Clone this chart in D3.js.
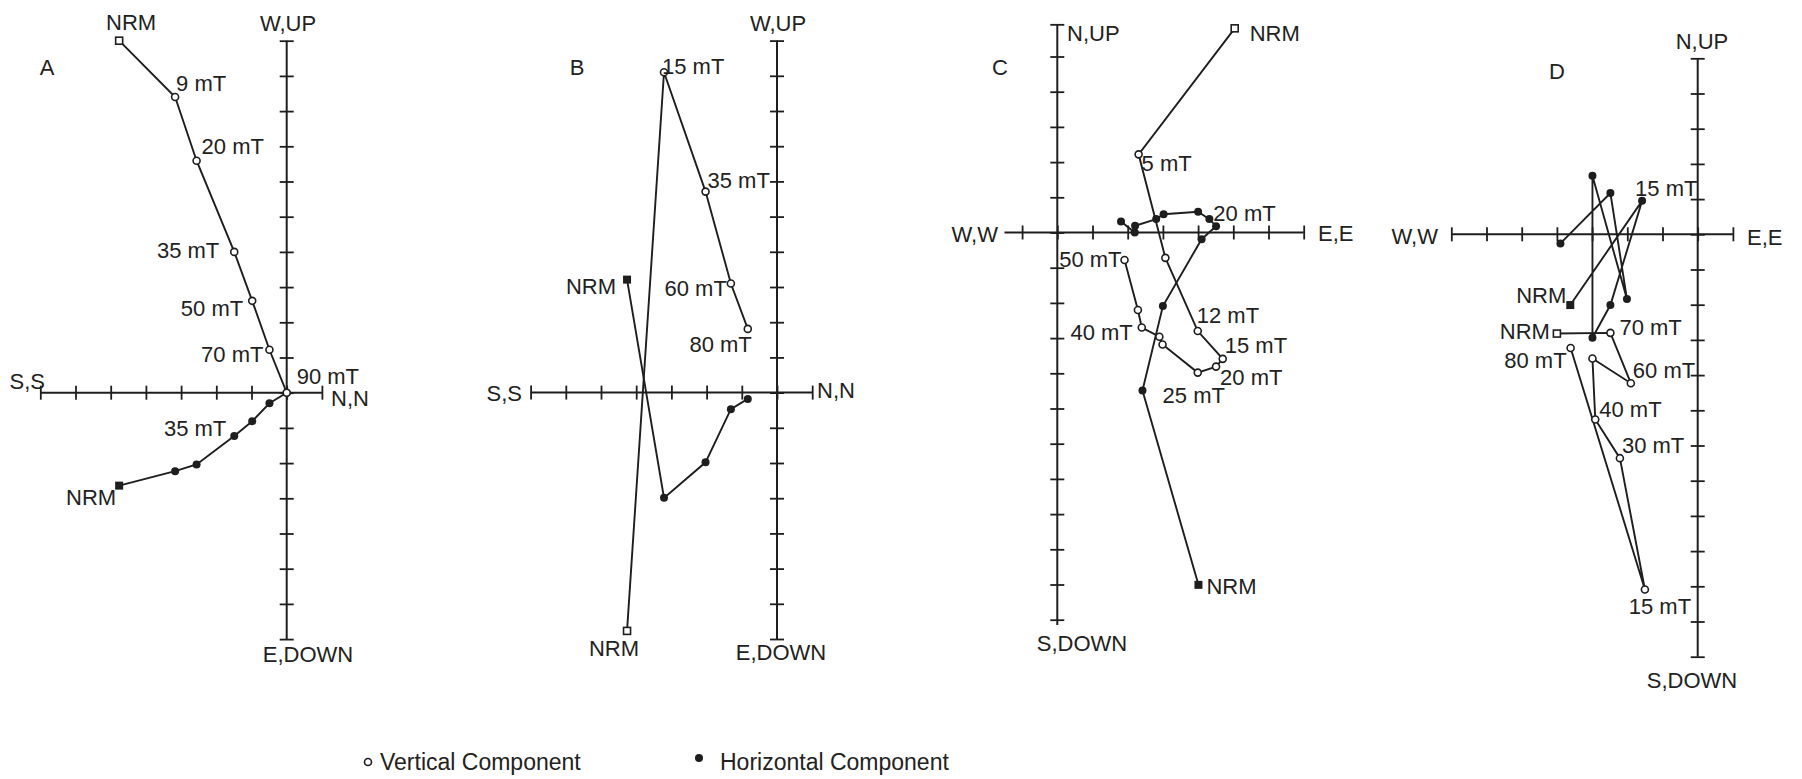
<!DOCTYPE html>
<html>
<head>
<meta charset="utf-8">
<script src="https://cdn.jsdelivr.net/npm/d3@7"></script>
<style>
  body { margin: 0; background: #fff; }
  svg text { font-family: "Liberation Sans", Arial, Helvetica, sans-serif; font-size: 22px; fill: #222; }
  svg text.legend { font-size: 23px; }
</style>
</head>
<body>
<svg id="chart" width="1802" height="779"></svg>
<script>
// ---- Demagnetization data (axis units = tick intervals) ----
// Panel A
const aVertX = [-4.76, -3.17, -2.56, -1.49, -0.98, -0.49, 0];
const aVertY = [10.0, 8.40, 6.59, 4.00, 2.61, 1.22, 0];
const aHorX  = [-4.76, -3.17, -2.56, -1.49, -0.98, -0.49, 0];
const aHorY  = [-2.64, -2.23, -2.04, -1.23, -0.81, -0.30, 0];
const aVertLabels = ["NRM", "9 mT", "20 mT", "35 mT", "50 mT", "70 mT", "90 mT"];
const aHorLabels  = ["NRM", "", "", "35 mT", "", "", ""];

// Panel B
const bVertX = [-4.26, -3.21, -2.03, -1.31, -0.83];
const bVertY = [-6.77, 9.10, 5.71, 3.10, 1.81];
const bHorX  = [-4.26, -3.21, -2.03, -1.31, -0.83];
const bHorY  = [3.21, -2.99, -1.98, -0.47, -0.18];
const bVertLabels = ["NRM", "15 mT", "35 mT", "60 mT", "80 mT"];
const bHorLabels  = ["NRM", "", "", "", ""];

// Panel C
const cVertX = [5.04, 2.31, 3.07, 3.99, 4.70, 4.51, 3.99, 2.99, 2.90, 2.40, 2.29, 1.91];
const cVertY = [5.80, 2.22, -0.72, -2.80, -3.59, -3.81, -3.98, -3.18, -2.96, -2.70, -2.20, -0.78];
const cHorX  = [4.01, 2.42, 3.00, 4.10, 4.51, 4.32, 4.00, 3.02, 2.81, 2.21, 2.20, 1.81];
const cHorY  = [-10.01, -4.49, -2.09, -0.19, 0.18, 0.38, 0.59, 0.52, 0.38, 0.19, 0.00, 0.31];
const cVertLabels = ["NRM", "5 mT", "", "12 mT", "15 mT", "20 mT", "25 mT", "", "", "40 mT", "", "50 mT"];
const cHorLabels  = ["NRM", "", "", "", "", "20 mT", "", "", "", "", "", ""];

// Panel D
const dVertX = [-4.00, -2.48, -1.90, -2.99, -2.91, -2.21, -1.50, -3.61];
const dVertY = [-2.82, -2.80, -4.23, -3.53, -5.26, -6.36, -10.09, -3.23];
const dHorX  = [-3.62, -1.58, -2.48, -2.99, -2.99, -2.01, -2.48, -3.90];
const dHorY  = [-2.01, 0.95, -2.01, -2.94, 1.66, -1.84, 1.17, -0.26];
const dVertLabels = ["NRM", "70 mT", "60 mT", "", "40 mT", "30 mT", "15 mT", "80 mT"];
const dHorLabels  = ["NRM", "15 mT", "", "", "", "", "", ""];

// Axis names
const axisNamesAB = { top: "W,UP", bottom: "E,DOWN", left: "S,S", right: "N,N" };
const axisNamesCD = { top: "N,UP", bottom: "S,DOWN", left: "W,W", right: "E,E" };
const panelLetters = ["A", "B", "C", "D"];
const legendLabels = ["Vertical Component", "Horizontal Component"];

// ---- Layout ----
const UNIT = 35.2;
const layouts = [
  {
    letter: [47, 75], ox: 286.7, oy: 392.7, xExt: [-7, 1], yExt: [-7, 10], caps: [],
    names: axisNamesAB,
    nameAt: { top: [288, 31, "middle"], bottom: [308, 662, "middle"], left: [45, 389, "end"], right: [331, 406, "start"] },
    place: [
      { s: "v", i: 0, a: "middle", dx: 12, dy: -11 },
      { s: "v", i: 1, a: "start", dx: 1, dy: -6 },
      { s: "v", i: 2, a: "start", dx: 5, dy: -7 },
      { s: "v", i: 3, a: "end", dx: -15, dy: 6 },
      { s: "v", i: 4, a: "end", dx: -9, dy: 15 },
      { s: "v", i: 5, a: "end", dx: -6, dy: 12 },
      { s: "v", i: 6, a: "start", dx: 10, dy: -9 },
      { s: "h", i: 0, a: "end", dx: -3, dy: 19 },
      { s: "h", i: 3, a: "end", dx: -8, dy: 0 }
    ]
  },
  {
    letter: [577, 75], ox: 777, oy: 392.6, xExt: [-7, 1], yExt: [-7, 10], caps: [],
    names: axisNamesAB,
    nameAt: { top: [778, 31, "middle"], bottom: [781, 660, "middle"], left: [522, 401, "end"], right: [817, 398, "start"] },
    place: [
      { s: "v", i: 0, a: "middle", dx: -13, dy: 25 },
      { s: "v", i: 1, a: "start", dx: -2, dy: 2 },
      { s: "v", i: 2, a: "start", dx: 2, dy: -4 },
      { s: "v", i: 3, a: "end", dx: -4, dy: 13 },
      { s: "v", i: 4, a: "end", dx: 4, dy: 23 },
      { s: "h", i: 0, a: "end", dx: -11, dy: 14 }
    ]
  },
  {
    letter: [1000, 75], ox: 1057.3, oy: 232.5, xExt: [-1.5, 7], yExt: [-11.15, 5.9], caps: ["top"],
    names: axisNamesCD,
    nameAt: { top: [1067, 41, "start"], bottom: [1082, 651, "middle"], left: [998, 242, "end"], right: [1318, 241, "start"] },
    place: [
      { s: "v", i: 0, a: "start", dx: 15, dy: 13 },
      { s: "v", i: 1, a: "start", dx: 3, dy: 17 },
      { s: "v", i: 3, a: "start", dx: -1, dy: -8 },
      { s: "v", i: 4, a: "start", dx: 2, dy: -6 },
      { s: "v", i: 5, a: "start", dx: 4, dy: 18 },
      { s: "v", i: 6, a: "middle", dx: -4, dy: 30 },
      { s: "v", i: 9, a: "end", dx: -9, dy: 12 },
      { s: "v", i: 11, a: "end", dx: -3, dy: 7 },
      { s: "h", i: 0, a: "start", dx: 8, dy: 9 },
      { s: "h", i: 5, a: "start", dx: 4, dy: 2 }
    ]
  },
  {
    letter: [1557, 79], ox: 1697.7, oy: 234.3, xExt: [-7, 1], yExt: [-12, 5], caps: [],
    names: axisNamesCD,
    nameAt: { top: [1702, 49, "middle"], bottom: [1692, 688, "middle"], left: [1438, 244, "end"], right: [1747, 245, "start"] },
    place: [
      { s: "h", i: 0, a: "end", dx: -4, dy: -2 },
      { s: "h", i: 1, a: "start", dx: -7, dy: -5 },
      { s: "v", i: 0, a: "end", dx: -7, dy: 5 },
      { s: "v", i: 1, a: "start", dx: 9, dy: 2 },
      { s: "v", i: 2, a: "start", dx: 2, dy: -5 },
      { s: "v", i: 4, a: "start", dx: 4, dy: -2 },
      { s: "v", i: 5, a: "start", dx: 2, dy: -5 },
      { s: "v", i: 6, a: "middle", dx: 15, dy: 25 },
      { s: "v", i: 7, a: "end", dx: -4, dy: 20 }
    ]
  }
];

const panelData = [
  { vx: aVertX, vy: aVertY, hx: aHorX, hy: aHorY, vl: aVertLabels, hl: aHorLabels },
  { vx: bVertX, vy: bVertY, hx: bHorX, hy: bHorY, vl: bVertLabels, hl: bHorLabels },
  { vx: cVertX, vy: cVertY, hx: cHorX, hy: cHorY, vl: cVertLabels, hl: cHorLabels },
  { vx: dVertX, vy: dVertY, hx: dHorX, hy: dHorY, vl: dVertLabels, hl: dHorLabels }
];

const INK = "#1e1e1e";
const TICK = 7;
const svg = d3.select("#chart");

function drawPanel(data, L, letter) {
  const x = d3.scaleLinear().domain([0, 1]).range([L.ox, L.ox + UNIT]);
  const y = d3.scaleLinear().domain([0, 1]).range([L.oy, L.oy - UNIT]);
  const g = svg.append("g").attr("color", INK);

  // Horizontal axis with ticks crossing the line
  const xTicks = d3.range(Math.ceil(L.xExt[0]), Math.floor(L.xExt[1]) + 1);
  const gx = g.append("g")
    .attr("transform", `translate(0,${L.oy})`)
    .call(d3.axisBottom(x).tickValues(xTicks).tickSize(TICK).tickSizeOuter(0).tickFormat(""));
  gx.select(".domain").remove();
  gx.selectAll(".tick line").attr("y1", -TICK).attr("y2", TICK).attr("stroke-width", 1.8);
  g.append("line")
    .attr("x1", x(L.xExt[0])).attr("x2", x(L.xExt[1]))
    .attr("y1", L.oy).attr("y2", L.oy)
    .attr("stroke", INK).attr("stroke-width", 2);

  // Vertical axis
  const yTicks = d3.range(Math.ceil(L.yExt[0]), Math.floor(L.yExt[1]) + 1);
  const gy = g.append("g")
    .attr("transform", `translate(${L.ox},0)`)
    .call(d3.axisLeft(y).tickValues(yTicks).tickSize(TICK).tickSizeOuter(0).tickFormat(""));
  gy.select(".domain").remove();
  gy.selectAll(".tick line").attr("x1", -TICK).attr("x2", TICK).attr("stroke-width", 1.8);
  g.append("line")
    .attr("x1", L.ox).attr("x2", L.ox)
    .attr("y1", y(L.yExt[0])).attr("y2", y(L.yExt[1]))
    .attr("stroke", INK).attr("stroke-width", 2);

  if (L.caps.includes("top")) {
    g.append("line")
      .attr("x1", L.ox - TICK).attr("x2", L.ox + TICK)
      .attr("y1", y(L.yExt[1])).attr("y2", y(L.yExt[1]))
      .attr("stroke", INK).attr("stroke-width", 1.8);
  }

  // Axis names and panel letter
  ["top", "bottom", "left", "right"].forEach(k => {
    const p = L.nameAt[k];
    g.append("text").attr("x", p[0]).attr("y", p[1]).attr("text-anchor", p[2]).text(L.names[k]);
  });
  g.append("text").attr("x", L.letter[0]).attr("y", L.letter[1]).attr("text-anchor", "middle").text(letter);

  const line = d3.line().x(d => x(d[0])).y(d => y(d[1]));
  const vPts = data.vx.map((v, i) => [v, data.vy[i]]);
  const hPts = data.hx.map((v, i) => [v, data.hy[i]]);

  g.append("path").attr("d", line(hPts)).attr("fill", "none").attr("stroke", INK).attr("stroke-width", 1.9);
  g.append("path").attr("d", line(vPts)).attr("fill", "none").attr("stroke", INK).attr("stroke-width", 1.9);

  // Horizontal component: filled markers (square at NRM)
  hPts.forEach((d, i) => {
    if (i === 0) {
      g.append("rect").attr("x", x(d[0]) - 4).attr("y", y(d[1]) - 4).attr("width", 8).attr("height", 8).attr("fill", INK);
    } else {
      g.append("circle").attr("cx", x(d[0])).attr("cy", y(d[1])).attr("r", 4).attr("fill", INK);
    }
  });
  // Vertical component: open markers (square at NRM)
  vPts.forEach((d, i) => {
    if (i === 0) {
      g.append("rect").attr("x", x(d[0]) - 3.5).attr("y", y(d[1]) - 3.5).attr("width", 7).attr("height", 7)
        .attr("fill", "#fff").attr("stroke", INK).attr("stroke-width", 1.6);
    } else {
      g.append("circle").attr("cx", x(d[0])).attr("cy", y(d[1])).attr("r", 3.5)
        .attr("fill", "#fff").attr("stroke", INK).attr("stroke-width", 1.6);
    }
  });

  // Step labels
  L.place.forEach(p => {
    const pts = p.s === "v" ? vPts : hPts;
    const txt = p.s === "v" ? data.vl[p.i] : data.hl[p.i];
    const d = pts[p.i];
    g.append("text")
      .attr("x", x(d[0]) + p.dx).attr("y", y(d[1]) + p.dy)
      .attr("text-anchor", p.a).text(txt);
  });
}

layouts.forEach((L, k) => drawPanel(panelData[k], L, panelLetters[k]));

// Legend
const lg = svg.append("g");
lg.append("circle").attr("cx", 368).attr("cy", 762).attr("r", 3.5)
  .attr("fill", "#fff").attr("stroke", INK).attr("stroke-width", 1.6);
lg.append("text").attr("class", "legend").attr("x", 380).attr("y", 770).text(legendLabels[0]);
lg.append("circle").attr("cx", 699).attr("cy", 758).attr("r", 4).attr("fill", INK);
lg.append("text").attr("class", "legend").attr("x", 720).attr("y", 770).text(legendLabels[1]);
</script>
</body>
</html>
